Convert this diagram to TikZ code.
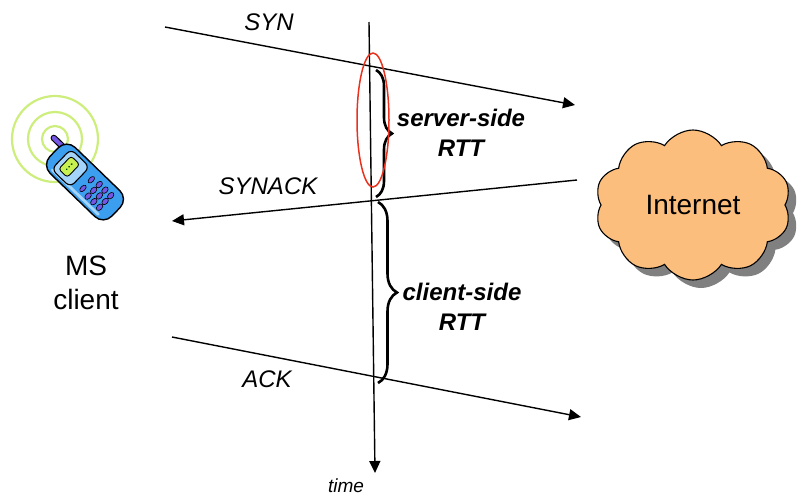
\documentclass[tikz,border=0pt]{standalone}
\usepackage{fontspec}
\setmainfont{Liberation Sans}
\usetikzlibrary{arrows.meta,decorations.pathreplacing,shapes.symbols,shadows}

\definecolor{cloudfill}{RGB}{252,190,125}
\definecolor{ringgreen}{RGB}{205,238,125}
\definecolor{phoneblue}{RGB}{60,158,238}
\definecolor{phonelight}{RGB}{165,212,250}
\definecolor{lcdgreen}{RGB}{200,240,80}
\definecolor{keypurple}{RGB}{118,86,228}
\definecolor{markred}{RGB}{232,50,30}

\begin{document}
\begin{tikzpicture}[x=1pt,y=-1pt,
  msg/.style={line width=1.4pt,-{Triangle[length=12pt,width=11pt]}},
  msglabel/.style={font=\fontsize{24}{28}\selectfont\itshape,inner sep=0pt},
  rttlabel/.style={font=\fontsize{24}{30}\selectfont\bfseries\itshape,align=center,inner sep=0pt},
  rttbrace/.style={decorate,decoration={brace,amplitude=#1},line width=2.6pt},
  hostlabel/.style={font=\fontsize{28}{34}\selectfont,align=center,inner sep=0pt},
  ring/.style={draw=ringgreen,line width=2.2pt},
  key/.style={fill=keypurple,draw=black,line width=0.6pt}]

\useasboundingbox (0,0) rectangle (801,496);

% endpoints of the time axis and the three messages
\coordinate (t0) at (369,22);
\coordinate (t1) at (375,473);
\coordinate (synA) at (165,27);
\coordinate (synB) at (575,105);
\coordinate (sackA) at (577,180);
\coordinate (sackB) at (172,221);
\coordinate (ackA) at (172,337);
\coordinate (ackB) at (581,417);

% time axis
\draw[msg] (t0) -- (t1);
\node[font=\fontsize{19}{22}\selectfont\itshape,inner sep=0pt] (time) at (346,486) {time};

% messages
\draw[msg] (synA) -- (synB);
\draw[msg] (sackA) -- (sackB);
\draw[msg] (ackA) -- (ackB);
\node[msglabel] (synlbl) at (269,22) {SYN};
\node[msglabel] (sacklbl) at (268,186) {SYNACK};
\node[msglabel] (acklbl) at (267,379) {ACK};

% round-trip times
\coordinate (sb0) at (376,70);
\coordinate (sb1) at (376,197);
\coordinate (cb0) at (378,202);
\coordinate (cb1) at (378,383);
\draw[rttbrace=16pt] (sb0) -- (sb1);
\draw[rttbrace=19pt] (cb0) -- (cb1);
\node[rttlabel] (srtt) at (461,133) {server-side\\RTT};
\node[rttlabel] (crtt) at (462,307) {client-side\\RTT};

% highlighted crossing
\draw[markred,line width=1.5pt] (373,120) ellipse [x radius=16,y radius=67];

% Internet cloud
\node[cloud,cloud puffs=10,cloud puff arc=115,aspect=1.35,
      minimum width=196pt,minimum height=150pt,
      fill=cloudfill,draw=black,line width=1.1pt,
      copy shadow={shadow xshift=8pt,shadow yshift=-8pt,fill=black!50,draw=none},
      font=\fontsize{28}{34}\selectfont,inner sep=0pt] (inet) at (693,205) {Internet};

% mobile station client
\node[hostlabel] (ms) at (86,283) {MS\\client};

% radio rings
\draw[ring] (55,139) circle[radius=43];
\draw[ring] (55,139) circle[radius=27];
\draw[ring] (55,139) circle[radius=13];

% handset
\begin{scope}[shift={(85,182)},rotate=46]
  % antenna
  \draw[line width=6.5pt,line cap=round] (10,-38) -- (10,-53);
  \draw[keypurple,line width=4.2pt,line cap=round] (10,-38) -- (10,-53);
  % body
  \draw[fill=phoneblue,line width=1.4pt,rounded corners=12pt] (-18,-43) rectangle (18,43);
  \draw[phonelight,line width=2.8pt,line cap=round] (-14,-32) -- (-14,32);
  % display
  \draw[fill=phonelight,line width=1.1pt,rounded corners=6pt] (-14,-33) rectangle (14,-7);
  \draw[fill=lcdgreen,line width=0.9pt,rounded corners=3pt] (-9,-28) rectangle (9,-16);
  \foreach \dx in {-3.5,0,3.5} \fill[black!70!green] (\dx,-22) circle[radius=1];
  % keys
  \draw[key] (-6,3) ellipse[x radius=4,y radius=2.3];
  \draw[key] (6,3) ellipse[x radius=4,y radius=2.3];
  \foreach \ky in {12,20,28}
    \foreach \kx in {-8,0,8}
      \draw[key] (\kx,\ky) ellipse[x radius=3.8,y radius=2.6];
\end{scope}
\end{tikzpicture}
\end{document}
